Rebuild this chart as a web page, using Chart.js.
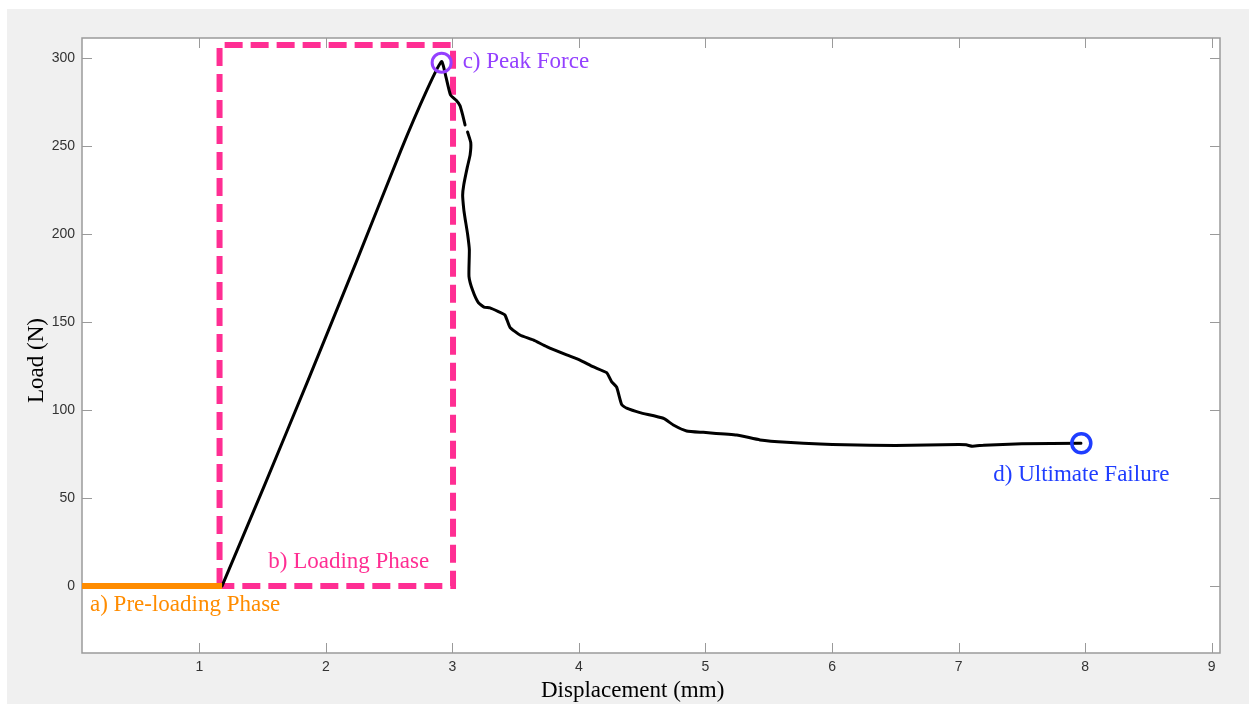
<!DOCTYPE html>
<html><head><meta charset="utf-8">
<script src="https://cdn.jsdelivr.net/npm/chart.js@4/dist/chart.umd.min.js"></script>
<style>html,body{margin:0;padding:0;background:#fff;}canvas{display:block;}</style>
</head><body>
<canvas id="c" width="1249" height="704"></canvas>
<script>
// ---- data ----
const xTicks = [1, 2, 3, 4, 5, 6, 7, 8, 9];
const yTicks = [0, 50, 100, 150, 200, 250, 300];

const curveX = [1.18, 1.52, 1.86, 2.24, 2.59, 2.80, 2.915, 2.95, 2.985, 3.03, 3.06, 3.08, 3.10, 3.11,
  3.12, 3.145, 3.14, 3.118, 3.09, 3.081, 3.09, 3.10, 3.12, 3.134, 3.131, 3.16, 3.205, 3.25, 3.297, 3.36,
  3.415, 3.455, 3.534, 3.639, 3.745, 3.903, 4.008, 4.111, 4.219, 4.259, 4.298, 4.338, 4.377, 4.482,
  4.667, 4.746, 4.851, 4.983, 5.247, 5.431, 5.642, 5.905, 6.1, 6.5, 7.0, 7.06, 7.11, 7.2, 7.5, 7.967];
const curveY = [0, 58, 117, 184, 247, 282, 298, 289, 279, 276, 273, 268, 262, null,
  258, 252, 245, 238, 228, 222, 214, 209, 200, 191, 176, 168, 161, 158.5, 158, 156,
  154, 147, 142.6, 139.8, 136, 131.3, 128.4, 124.6, 121.2, 116, 113, 103, 101, 98.5,
  95.3, 91.5, 88.1, 87.3, 85.8, 83.0, 81.6, 80.7, 80.2, 79.8, 80.4, 80.2, 79.4, 80.0, 80.8, 81.1];

const preX = [0.073, 1.18];
const preY = [0, 0];

const boxX = [1.16, 1.16, 3.005, 3.005, 1.16];
const boxY = [0, 307.4, 307.4, 0, 0];

const peakX = [2.915];
const peakY = [297.4];
const failX = [7.97];
const failY = [81.1];

const annTexts = ["a) Pre-loading Phase", "b) Loading Phase", "c) Peak Force", "d) Ultimate Failure"];

// ---- helpers ----
const pts = (xs, ys) => xs.map((x, i) => ({ x: x, y: ys[i] }));

const annotationSpec = [
  { text: annTexts[0], x: 0.136, y: -14.2, color: '#ff8c00' },
  { text: annTexts[1], x: 1.545, y: 10.0, color: '#ff2e93' },
  { text: annTexts[2], x: 3.081, y: 294.1, color: '#9440ff' },
  { text: annTexts[3], x: 7.274, y: 59.7, color: '#1f3dff' }
];

const frameColor = '#9a9a9a';

const bgPlugin = {
  id: 'bg',
  beforeDraw(chart) {
    const ctx = chart.ctx, a = chart.chartArea;
    ctx.save();
    ctx.fillStyle = '#ffffff';
    ctx.fillRect(0, 0, chart.width, chart.height);
    ctx.fillStyle = '#f0f0f0';
    ctx.fillRect(7, 9, chart.width - 7, chart.height - 9);
    ctx.fillStyle = '#ffffff';
    ctx.fillRect(a.left, a.top, a.right - a.left, a.bottom - a.top);
    ctx.restore();
  },
  beforeDatasetsDraw(chart) {
    const ctx = chart.ctx, a = chart.chartArea;
    const xs = chart.scales.x, ys = chart.scales.y;
    const L = 10;
    ctx.save();
    ctx.strokeStyle = frameColor;
    ctx.lineWidth = 1;
    ctx.beginPath();
    xTicks.forEach(v => {
      const px = Math.round(xs.getPixelForValue(v)) + 0.5;
      ctx.moveTo(px, a.bottom); ctx.lineTo(px, a.bottom - L);
      ctx.moveTo(px, a.top); ctx.lineTo(px, a.top + L);
    });
    yTicks.forEach(v => {
      const py = Math.round(ys.getPixelForValue(v)) + 0.5;
      ctx.moveTo(a.left, py); ctx.lineTo(a.left + L, py);
      ctx.moveTo(a.right, py); ctx.lineTo(a.right - L, py);
    });
    ctx.stroke();
    ctx.lineWidth = 1.5;
    ctx.strokeRect(a.left, a.top, a.right - a.left, a.bottom - a.top);
    ctx.restore();
  },
  afterDatasetsDraw(chart) {
    const ctx = chart.ctx;
    const xs = chart.scales.x, ys = chart.scales.y;
    ctx.save();
    ctx.font = '23px "Liberation Serif", "Times New Roman", serif';
    ctx.textAlign = 'left';
    ctx.textBaseline = 'alphabetic';
    annotationSpec.forEach(s => {
      ctx.fillStyle = s.color;
      ctx.fillText(s.text, xs.getPixelForValue(s.x), ys.getPixelForValue(s.y));
    });
    // axis titles
    ctx.fillStyle = '#000';
    ctx.fillText('Displacement (mm)', 541, 697);
    ctx.translate(43, 403);
    ctx.rotate(-Math.PI / 2);
    ctx.fillText('Load (N)', 0, 0);
    ctx.restore();
  }
};

const tickFont = { family: '"Liberation Sans", Arial, sans-serif', size: 14 };

new Chart(document.getElementById('c'), {
  type: 'line',
  data: {
    datasets: [
      { data: pts(peakX, peakY), showLine: false, pointRadius: 9.5, pointBorderWidth: 3,
        pointBorderColor: '#9440ff', pointBackgroundColor: 'rgba(0,0,0,0)', pointStyle: 'circle' },
      { data: pts(failX, failY), showLine: false, pointRadius: 9.5, pointBorderWidth: 3.5,
        pointBorderColor: '#1f3dff', pointBackgroundColor: 'rgba(0,0,0,0)', pointStyle: 'circle' },
      { data: pts(preX, preY), borderColor: '#ff8c00', borderWidth: 6, pointRadius: 0, borderCapStyle: 'butt' },
      { data: pts(curveX, curveY), borderColor: '#000000', borderWidth: 3, pointRadius: 0,
        tension: 0.15, spanGaps: false, borderJoinStyle: 'round', borderCapStyle: 'round' },
      { data: pts(boxX, boxY), borderColor: '#ff2e93', borderWidth: 6, pointRadius: 0,
        borderDash: [18, 8], borderJoinStyle: 'miter', borderCapStyle: 'butt', tension: 0 }
    ]
  },
  options: {
    responsive: false,
    animation: false,
    devicePixelRatio: 1,
    layout: { padding: { left: 0, top: 38, right: 29, bottom: 0 } },
    plugins: { legend: { display: false }, tooltip: { enabled: false }, title: { display: false } },
    events: [],
    scales: {
      x: {
        type: 'linear', min: 0.073, max: 9.066,
        afterBuildTicks: s => { s.ticks = xTicks.map(v => ({ value: v })); },
        afterFit: s => { s.height = 51; },
        grid: { display: false, drawTicks: false, tickLength: 0 }, border: { display: false },
        ticks: { font: tickFont, color: '#333', padding: 6, maxRotation: 0, autoSkip: false }
      },
      y: {
        type: 'linear', min: -38.1, max: 311.4,
        afterBuildTicks: s => { s.ticks = yTicks.map(v => ({ value: v })); },
        afterFit: s => { s.width = 82; },
        grid: { display: false, drawTicks: false, tickLength: 0 }, border: { display: false },
        ticks: { font: tickFont, color: '#333', padding: 7, autoSkip: false }
      }
    }
  },
  plugins: [bgPlugin]
});
</script>
</body></html>
